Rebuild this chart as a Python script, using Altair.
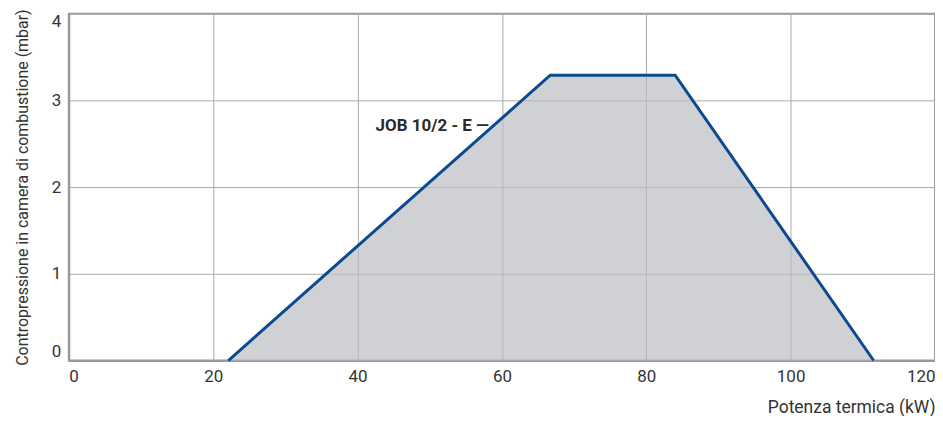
import altair as alt
import pandas as pd

# Data
potenza = [22.1, 66.7, 84.0, 111.5]          # kW
contropressione = [0.0, 3.29, 3.29, 0.0]     # mbar
label_text = ["JOB 10/2 - E \u2014"]
label_x = [58.2]
label_y = [2.7]

x_ticks = [0, 20, 40, 60, 80, 100, 120]
y_ticks = [0, 1, 2, 3, 4]

df = pd.DataFrame({"x": potenza, "y": contropressione})
lab = pd.DataFrame({"x": label_x, "y": label_y, "t": label_text})

FONT = "Roboto"

xs = alt.Scale(domain=[0, 120], nice=False, zero=False)
ys = alt.Scale(domain=[0, 4], nice=False, zero=False)

xax = alt.Axis(values=x_ticks, format="d", title="Potenza termica (kW)", titleAnchor="end",
               titleAlign="right", titleFontWeight="normal", titleFontSize=17.5,
               titlePadding=14, labelFontSize=17, labelPadding=8, labelFlush=True,
               tickSize=0, grid=True, gridColor="#aaaaaa", gridWidth=1,
               domainColor="#999999", domainWidth=2, labelColor="#333333",
               titleColor="#333333", labelFont=FONT, titleFont=FONT)
yax = alt.Axis(values=y_ticks, format="d",
               title="Contropressione in camera di combustione (mbar)",
               titleFontWeight="normal", titleFontSize=16, titlePadding=21,
               labelFontSize=17, labelPadding=8, labelFlush=True, tickSize=0,
               grid=True, gridColor="#aaaaaa", gridWidth=1, domainColor="#999999",
               domainWidth=2, labelColor="#333333", titleColor="#333333",
               labelFont=FONT, titleFont=FONT)

base = alt.Chart(df)
area = base.mark_area(color="#bcbec2", opacity=0.7).encode(
    x=alt.X("x:Q", scale=xs, axis=xax),
    y=alt.Y("y:Q", scale=ys, axis=yax),
)
line = base.mark_line(color="#0b4a8f", strokeWidth=3).encode(
    x=alt.X("x:Q", scale=xs),
    y=alt.Y("y:Q", scale=ys),
)
text = alt.Chart(lab).mark_text(align="right", baseline="middle", fontWeight="bold",
                                fontSize=17, font=FONT, color="#2a2a2a").encode(
    x=alt.X("x:Q", scale=xs),
    y=alt.Y("y:Q", scale=ys),
    text="t:N",
)

chart = alt.layer(area, line, text).properties(
    width=869, height=348,
    autosize=alt.AutoSizeParams(type="none"),
    padding={"left": 61, "top": 5, "right": 0, "bottom": 55},
).configure_view(stroke="#999999", strokeWidth=2)

chart.save("out.html", embed_options={"renderer": "svg", "actions": False})
